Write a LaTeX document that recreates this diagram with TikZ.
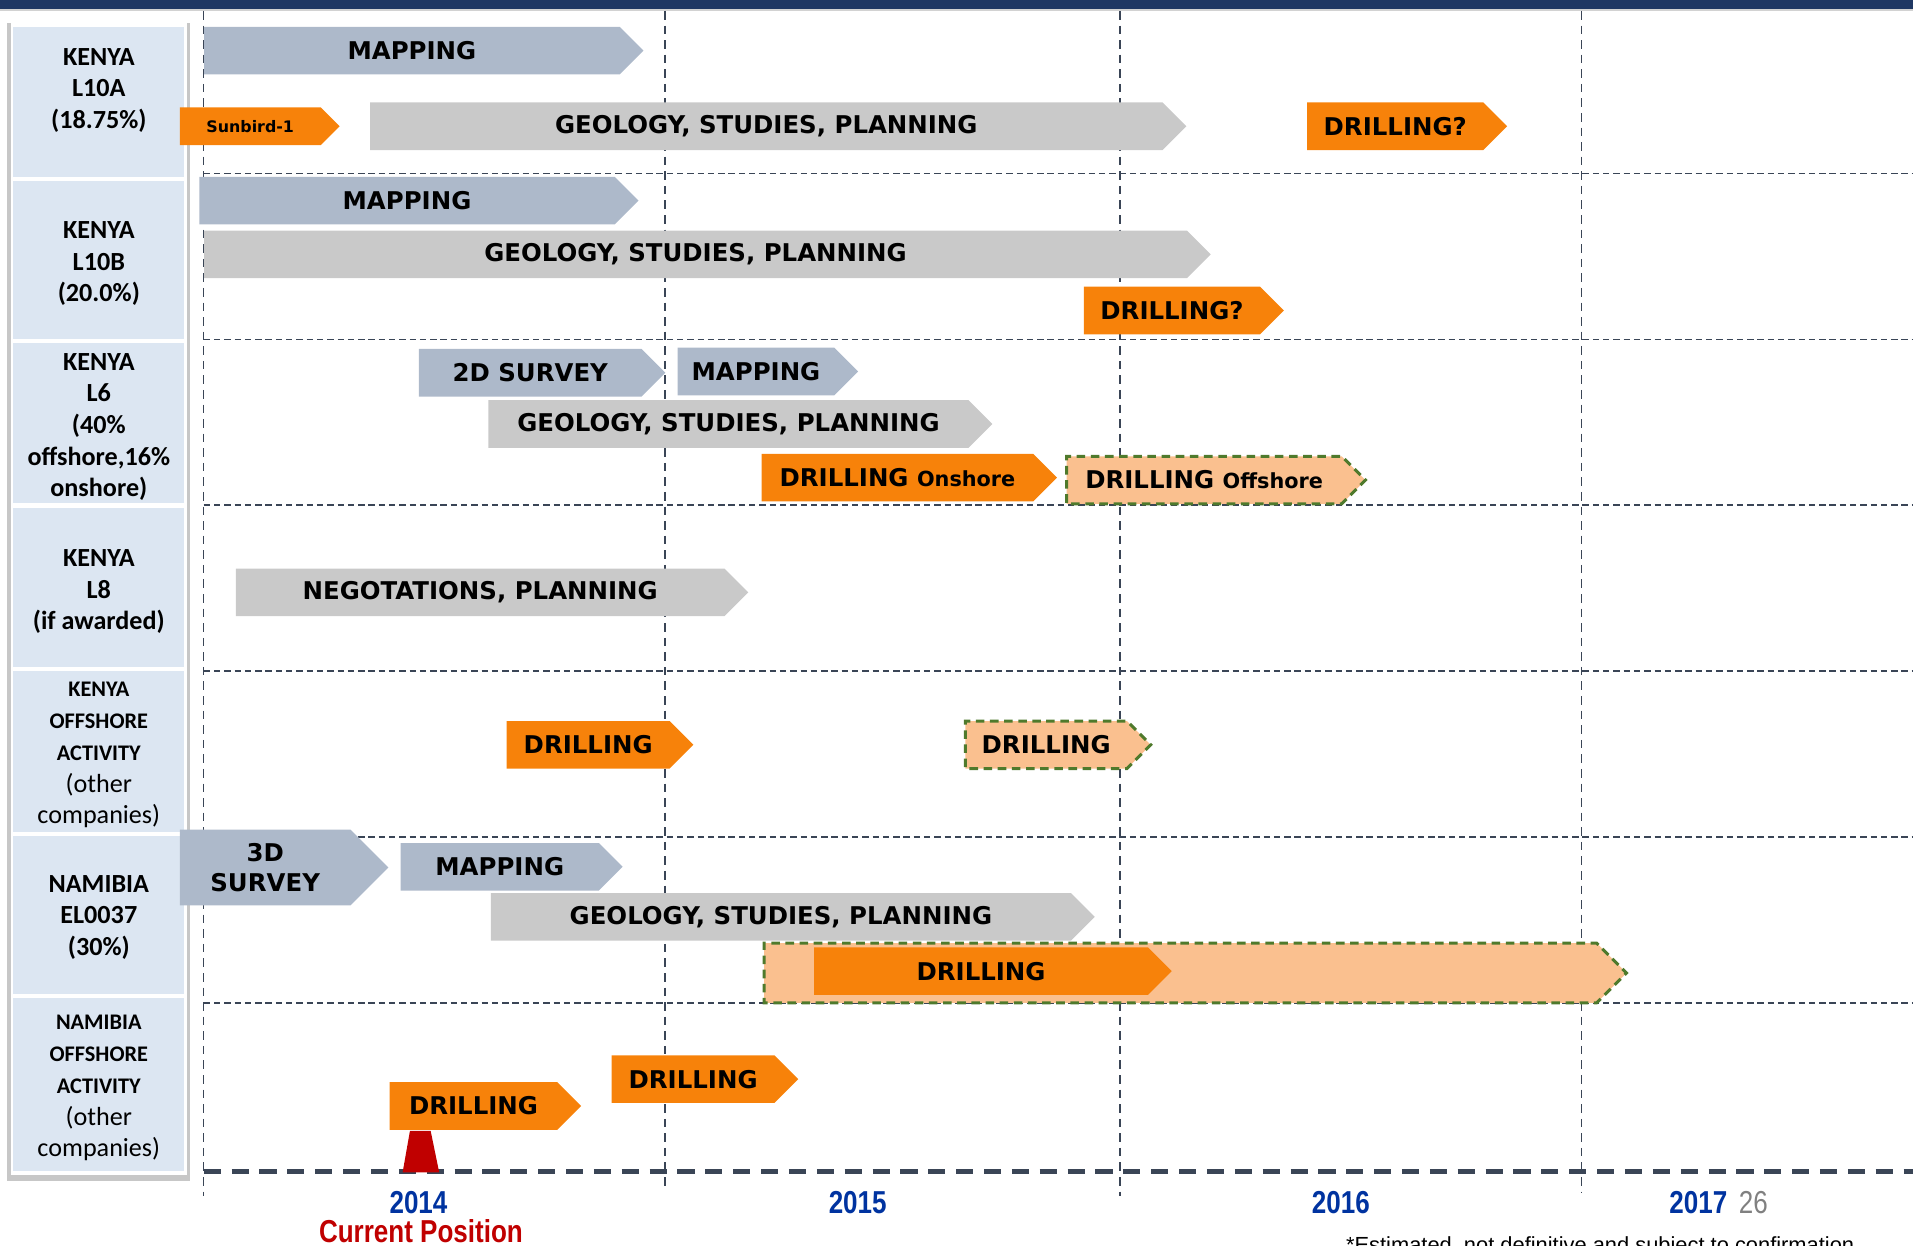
\documentclass[tikz,border=0pt]{standalone}
\usepackage{fontspec}
\setmainfont{DejaVu Sans}
\newfontfamily\calibri{Carlito}
\newfontfamily\arial{Liberation Sans}
\newfontfamily\narrow[FakeStretch=0.82]{Liberation Sans}
\usepackage{tikz}
\usetikzlibrary{shapes.symbols,positioning}

\definecolor{mapblue}{HTML}{ADB9CA}
\definecolor{geogray}{HTML}{C9C9C9}
\definecolor{drillorange}{HTML}{F7820A}
\definecolor{drilllight}{HTML}{FAC08F}
\definecolor{dashgreen}{HTML}{4F7A2C}
\definecolor{cellblue}{HTML}{DCE6F2}
\definecolor{gridline}{HTML}{3A4556}
\definecolor{yearblue}{HTML}{0033A0}
\definecolor{posred}{HTML}{C00000}
\definecolor{topnavy}{HTML}{1F3763}

\begin{document}
\begin{tikzpicture}[x=0.02cm,y=-0.02cm,
  bar/.style={shape=signal,signal to=east,anchor=west,inner sep=0pt,
    minimum height=0.78cm,font=\bfseries\fontsize{11.4}{13.7}\selectfont},
  barlen/.style={minimum width=#1*0.02cm},
  mapbar/.style={bar,fill=mapblue},
  geobar/.style={bar,fill=geogray},
  drillbar/.style={bar,fill=drillorange},
  planbar/.style={bar,fill=drilllight,draw=dashgreen,line width=1.4pt,
    dash pattern=on 4pt off 2.6pt},
  yearline/.style={gridline,line width=0.6pt,dash pattern=on 4pt off 2.8pt},
  rowline/.style={gridline,line width=0.6pt,dash pattern=on 3pt off 1.8pt},
  celltext/.style={align=center,font=\calibri\bfseries\fontsize{12.2}{14.8}\selectfont},
  yeartext/.style={text=yearblue,inner sep=0.5pt,font=\narrow\bfseries\fontsize{14.8}{16}\selectfont}]

  \useasboundingbox (0,0) rectangle (1568,1021);
  \clip (0,0) rectangle (1568,1021);

  % top band
  \fill[topnavy] (0,0) rectangle (1568,7);
  \fill[gray!35] (0,7) rectangle (1568,9);

  % left panel with its cells
  \fill[black!22] (6,19) rectangle (156,968);
  \fill[white] (9,19) rectangle (153,963);
  \foreach \top/\bot in {22/145,148/278,281/412,416/547,550/682,685/815,818/960}
    \fill[cellblue] (11,\top) rectangle (151,\bot);

  % grid of years and rows
  \foreach \xx/\yend in {167/980,545/975,918/980,1296/978}
    \draw[yearline] (\xx,9) -- (\xx,\yend);
  \foreach \yy in {142,278,414,550,686,822}
    \draw[rowline] (167,\yy) -- (1568,\yy);

  % Specification of labels in the left panel
  \node[celltext] (lblA) at (81,74) {KENYA\\L10A\\(18.75\%)};
  \node[celltext] (lblB) at (81,216) {KENYA\\L10B\\(20.0\%)};
  \node[celltext] (lblC) at (81,350) {KENYA\\L6\\(40\%\\offshore,16\%\\onshore)};
  \node[celltext] (lblD) at (81,485) {KENYA\\L8\\(if awarded)};
  \node[celltext] (lblE) at (81,619) {{\fontsize{10.4}{13.5}\selectfont KENYA}\\
    {\fontsize{10.4}{13.5}\selectfont OFFSHORE}\\{\fontsize{10.4}{13.5}\selectfont ACTIVITY}\\
    {\mdseries (other}\\{\mdseries companies)}};
  \node[celltext] (lblF) at (81,752) {NAMIBIA\\EL0037\\(30\%)};
  \node[celltext] (lblG) at (81,892) {{\fontsize{10.4}{13.5}\selectfont NAMIBIA}\\
    {\fontsize{10.4}{13.5}\selectfont OFFSHORE}\\{\fontsize{10.4}{13.5}\selectfont ACTIVITY}\\
    {\mdseries (other}\\{\mdseries companies)}};

  % Specification of bars (left edge, length)
  % KENYA L10A
  \node[mapbar,barlen=360] (mapA) at (167,41.5) {MAPPING};
  \node[drillbar,barlen=131,minimum height=0.62cm,
    font=\bfseries\fontsize{7.4}{9}\selectfont] (sunA) at (147,103.5) {Sunbird-1};
  \node[geobar,barlen=669] (geoA) at (303,103.5) {GEOLOGY, STUDIES, PLANNING};
  \node[drillbar,barlen=164] (drillA) at (1071,103.5) {DRILLING?};
  % KENYA L10B
  \node[mapbar,barlen=360] (mapB) at (163,164.5) {MAPPING};
  \node[geobar,barlen=825] (geoB) at (167,208.5) {GEOLOGY, STUDIES, PLANNING};
  \node[drillbar,barlen=164] (drillB) at (888,254.5) {DRILLING?};
  % KENYA L6
  \node[mapbar,barlen=202] (surveyC) at (343,305.5) {2D SURVEY};
  \node[mapbar,barlen=148] (mapC) at (555,304.5) {MAPPING};
  \node[geobar,barlen=413] (geoC) at (400,347.5) {GEOLOGY, STUDIES, PLANNING};
  \node[drillbar,barlen=242] (onC) at (624,391.5)
    {DRILLING {\fontsize{9.7}{11}\selectfont Onshore}};
  \node[planbar,barlen=245] (offC) at (873,393.5)
    {DRILLING {\fontsize{9.7}{11}\selectfont Offshore}};
  % KENYA L8
  \node[geobar,barlen=420] (negD) at (193,485.5) {NEGOTATIONS, PLANNING};
  % KENYA offshore activity
  \node[drillbar,barlen=153] (drillE) at (415,610.5) {DRILLING};
  \node[planbar,barlen=152] (planE) at (790,610.5) {DRILLING};
  % NAMIBIA EL0037
  \node[mapbar,barlen=171,minimum height=1.24cm,align=center] (surveyF) at (147,711) {3D\\SURVEY};
  \node[mapbar,barlen=182] (mapF) at (328,710.5) {MAPPING};
  \node[geobar,barlen=495] (geoF) at (402,751.5) {GEOLOGY, STUDIES, PLANNING};
  \node[planbar,barlen=707,minimum height=0.98cm] (planF) at (625,797.5) {};
  \node[drillbar,barlen=293] (drillF) at (667,796) {DRILLING};
  % NAMIBIA offshore activity
  \node[drillbar,barlen=157] (drillG) at (319,906.5) {DRILLING};
  \node[drillbar,barlen=153] (drillH) at (501,884.5) {DRILLING};

  % time axis
  \draw[gridline,line width=2.2pt,dash pattern=on 8pt off 5pt] (167,960) -- (1568,960);
  \fill[posred] (330,961) -- (360,961) -- (353,927) -- (336,927) -- cycle;

  \node[yeartext] (y2014) at (343,986) {2014};
  \node[yeartext] (y2015) at (703,986) {2015};
  \node[yeartext] (y2016) at (1099,986) {2016};
  \node[yeartext] (y2017) at (1392,986) {2017};
  \node[text=gray,inner sep=0.5pt,font=\narrow\fontsize{14.8}{16}\selectfont,right=4pt of y2017] (page) {26};
  \node[text=posred,inner sep=0.5pt,font=\narrow\bfseries\fontsize{14.8}{16}\selectfont] (current) at (345,1009) {Current Position};
  \node[anchor=north west,inner sep=0pt,font=\arial\fontsize{10.2}{12}\selectfont] (note) at (1103,1013)
    {*Estimated, not definitive and subject to confirmation};

\end{tikzpicture}
\end{document}
